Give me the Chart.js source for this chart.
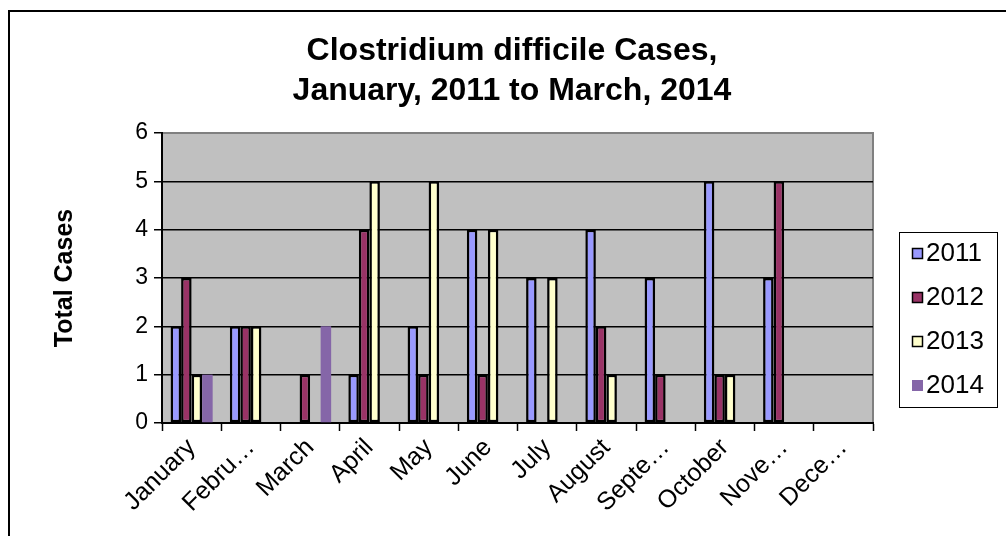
<!DOCTYPE html>
<html>
<head>
<meta charset="utf-8">
<script src="https://cdn.jsdelivr.net/npm/chart.js@4/dist/chart.umd.min.js"></script>
<style>
  html, body { margin: 0; padding: 0; background: #ffffff; }
  #wrap { width: 1006px; height: 536px; position: relative; }
</style>
</head>
<body>
<div id="wrap"><canvas id="chart" width="1006" height="536"></canvas></div>
<script>
// Monthly Clostridium difficile case counts by year
const months = ['January', 'Febru…', 'March', 'April', 'May', 'June', 'July', 'August', 'Septe…', 'October', 'Nove…', 'Dece…'];
const cases2011 = [2, 2, null, 1, 2, 4, 3, 4, 3, 5, 3, null];
const cases2012 = [3, 2, 1, 4, 1, 1, null, 2, 1, 1, 5, null];
const cases2013 = [1, 2, null, 5, 5, 4, 3, 1, null, 1, null, null];
const cases2014 = [1, null, 2, null, null, null, null, null, null, null, null, null];
const yearLabels = ['2011', '2012', '2013', '2014'];
const yTicks = [0, 1, 2, 3, 4, 5, 6];
const titleLines = ['Clostridium difficile Cases,', 'January, 2011 to March, 2014'];

const FONT = '"Liberation Sans", Arial, sans-serif';

// grey plot panel and the outer frame, drawn under everything else
const panelPlugin = {
  id: 'panel',
  beforeDraw(chart) {
    const { ctx, chartArea: a } = chart;
    ctx.save();
    ctx.fillStyle = '#ffffff';
    ctx.fillRect(0, 0, chart.width, chart.height);
    // outer frame (left and top edges)
    ctx.strokeStyle = '#000000';
    ctx.lineWidth = 2;
    ctx.beginPath();
    ctx.moveTo(9, chart.height + 2);
    ctx.lineTo(9, 11);
    ctx.lineTo(chart.width + 2, 11);
    ctx.stroke();
    // plot panel
    ctx.fillStyle = '#c0c0c0';
    ctx.fillRect(a.left, a.top, a.right - a.left, a.bottom - a.top);
    ctx.strokeStyle = '#808080';
    ctx.lineWidth = 2;
    ctx.beginPath();
    ctx.moveTo(a.left, a.top);
    ctx.lineTo(a.right, a.top);
    ctx.lineTo(a.right, a.bottom);
    ctx.stroke();
    ctx.restore();
  }
};

// two-line title and boxed legend
const overlayPlugin = {
  id: 'overlay',
  afterDraw(chart) {
    const { ctx } = chart;
    ctx.save();
    ctx.fillStyle = '#000000';
    ctx.textAlign = 'center';
    ctx.textBaseline = 'middle';
    ctx.font = 'bold 32px ' + FONT;
    titleLines.forEach((line, i) => ctx.fillText(line, 512, 51 + i * 40));

    // legend
    const lx = 899, ly = 232, lw = 98, lh = 175;
    ctx.strokeStyle = '#000000';
    ctx.lineWidth = 1;
    ctx.strokeRect(lx + 0.5, ly + 0.5, lw, lh);
    ctx.textAlign = 'left';
    ctx.font = '26px ' + FONT;
    chart.data.datasets.forEach((ds, i) => {
      const cy = 253 + i * 44;
      ctx.fillStyle = ds.backgroundColor;
      ctx.fillRect(912, cy - 5, 11, 11);
      if (ds.borderWidth > 0) {
        ctx.strokeStyle = '#000000';
        ctx.lineWidth = 1.5;
        ctx.strokeRect(912.5, cy - 4.5, 10, 10);
      }
      ctx.fillStyle = '#000000';
      ctx.fillText(ds.label, 926, cy + 1);
    });
    ctx.restore();
  }
};

const seriesColors = ['#9999ff', '#993366', '#ffffcc', '#8566a8'];
const seriesData = [cases2011, cases2012, cases2013, cases2014];

new Chart(document.getElementById('chart'), {
  type: 'bar',
  data: {
    labels: months,
    datasets: seriesData.map((values, i) => ({
      label: yearLabels[i],
      data: values,
      backgroundColor: seriesColors[i],
      borderColor: '#000000',
      borderWidth: i === 3 ? 0 : 2.5,
      borderSkipped: false,
      barPercentage: 1.0,
      categoryPercentage: 0.71
    }))
  },
  options: {
    responsive: false,
    animation: false,
    devicePixelRatio: 1,
    layout: { padding: { left: 0, top: 133, right: 133, bottom: 0 } },
    plugins: {
      legend: { display: false },
      title: { display: false },
      tooltip: { enabled: false }
    },
    scales: {
      x: {
        offset: true,
        afterFit(scale) { scale.height = 113; },
        grid: {
          offset: true,
          drawOnChartArea: false,
          drawTicks: true,
          tickLength: 8,
          tickColor: '#000000',
          tickWidth: 1.5
        },
        border: { display: true, color: '#000000', width: 2 },
        ticks: {
          autoSkip: false,
          minRotation: 45,
          maxRotation: 45,
          padding: 2,
          color: '#000000',
          font: { family: FONT, size: 25 }
        }
      },
      y: {
        min: 0,
        max: 6,
        afterFit(scale) { scale.width = 162; },
        afterBuildTicks(scale) { scale.ticks = yTicks.map(v => ({ value: v })); },
        grid: {
          color: (c) => (c.tick && c.tick.value === 6 ? '#808080' : '#000000'),
          lineWidth: 1.5,
          drawTicks: true,
          tickLength: 8,
          tickColor: '#000000',
          tickWidth: 1.5
        },
        border: { display: true, color: '#000000', width: 2 },
        ticks: {
          padding: 6,
          color: '#000000',
          font: { family: FONT, size: 23 }
        },
        title: {
          display: true,
          text: 'Total Cases',
          color: '#000000',
          font: { family: FONT, size: 25, weight: 'bold' },
          padding: { top: 50, bottom: 0 }
        }
      }
    }
  },
  plugins: [panelPlugin, overlayPlugin]
});
</script>
</body>
</html>
